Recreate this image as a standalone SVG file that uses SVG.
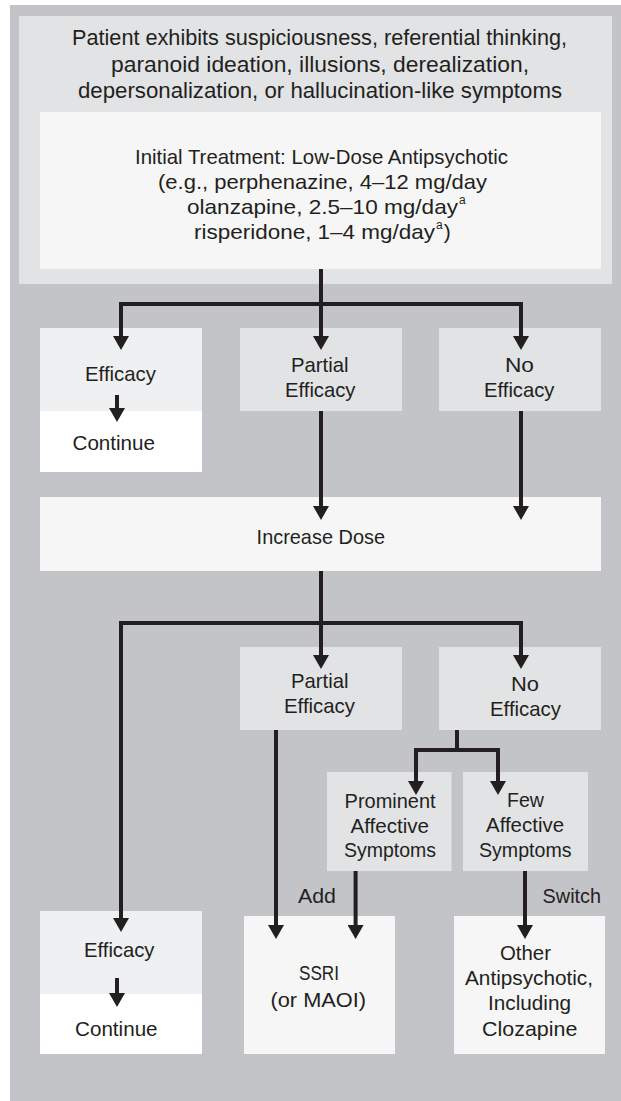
<svg xmlns="http://www.w3.org/2000/svg" width="621" height="1101" viewBox="0 0 621 1101">
<defs>
<style>
text{font-family:"Liberation Sans",Arial,sans-serif;fill:#231f20;font-size:21px}
.top{font-size:22px}
.mid{fill:#e2e3e5}
.lite{fill:#f6f6f6}
.eff{fill:#eff0f1}
.wht{fill:#ffffff}
.ln{fill:none;stroke:#231f20;stroke-width:4;stroke-linejoin:miter;stroke-linecap:butt;marker-end:url(#ah)}
.ln2{fill:none;stroke:#231f20;stroke-width:4;stroke-linejoin:miter;stroke-linecap:butt}
</style>
<marker id="ah" markerUnits="userSpaceOnUse" markerWidth="14" markerHeight="16" viewBox="0 0 14 16" refX="0" refY="8" orient="auto">
<path d="M0,0 L14,8 L0,16 z" fill="#231f20"/>
</marker>
</defs>
<rect x="0" y="0" width="621" height="1101" fill="#ffffff"/>
<rect x="10" y="5" width="611" height="1096" fill="#c3c4c8"/>

<g id="n-patient">
<rect class="mid" x="19" y="16" width="593" height="268"/>
<text class="top" x="72" y="45" textLength="495" lengthAdjust="spacingAndGlyphs">Patient exhibits suspiciousness, referential thinking,</text>
<text class="top" x="111" y="72" textLength="418" lengthAdjust="spacingAndGlyphs">paranoid ideation, illusions, derealization,</text>
<text class="top" x="78" y="98" textLength="484" lengthAdjust="spacingAndGlyphs">depersonalization, or hallucination-like symptoms</text>
</g>

<g id="n-initial">
<rect class="lite" x="40" y="112" width="561" height="157"/>
<text x="135" y="164" textLength="373" lengthAdjust="spacingAndGlyphs">Initial Treatment: Low-Dose Antipsychotic</text>
<text x="158" y="189" textLength="329" lengthAdjust="spacingAndGlyphs">(e.g., perphenazine, 4–12 mg/day</text>
<text x="187" y="214"><tspan textLength="271" lengthAdjust="spacingAndGlyphs">olanzapine, 2.5–10 mg/day</tspan><tspan font-size="12" dx="1" dy="-10">a</tspan></text>
<text x="194" y="239"><tspan textLength="241" lengthAdjust="spacingAndGlyphs">risperidone, 1–4 mg/day</tspan><tspan font-size="12" dx="1" dy="-10">a</tspan><tspan dx="1" dy="10">)</tspan></text>
</g>

<g id="n-eff1">
<rect class="eff" x="40" y="328" width="162" height="83"/>
<rect class="wht" x="40" y="411" width="162" height="61"/>
<text x="85" y="381" textLength="71" lengthAdjust="spacingAndGlyphs">Efficacy</text>
<text x="72.5" y="450" textLength="82.5" lengthAdjust="spacingAndGlyphs">Continue</text>
</g>

<g id="n-partial1">
<rect class="mid" x="240" y="328" width="162" height="83"/>
<text x="291" y="372" textLength="57.5" lengthAdjust="spacingAndGlyphs">Partial</text>
<text x="285" y="397" textLength="70.5" lengthAdjust="spacingAndGlyphs">Efficacy</text>
</g>

<g id="n-no1">
<rect class="mid" x="439" y="328" width="162" height="83"/>
<text x="505" y="372" textLength="29" lengthAdjust="spacingAndGlyphs">No</text>
<text x="484" y="397" textLength="70.5" lengthAdjust="spacingAndGlyphs">Efficacy</text>
</g>

<g id="n-increase">
<rect class="lite" x="40" y="497" width="561" height="74"/>
<text x="256.6" y="544" textLength="128.4" lengthAdjust="spacingAndGlyphs">Increase Dose</text>
</g>

<g id="n-partial2">
<rect class="mid" x="240" y="647" width="162" height="83"/>
<text x="291" y="688" textLength="57.5" lengthAdjust="spacingAndGlyphs">Partial</text>
<text x="284" y="713" textLength="71" lengthAdjust="spacingAndGlyphs">Efficacy</text>
</g>

<g id="n-no2">
<rect class="mid" x="439" y="647" width="162" height="83"/>
<text x="511" y="691" textLength="28" lengthAdjust="spacingAndGlyphs">No</text>
<text x="490" y="716" textLength="71" lengthAdjust="spacingAndGlyphs">Efficacy</text>
</g>

<g id="n-prominent">
<rect class="mid" x="327" y="772" width="124.5" height="99"/>
<text x="344.6" y="808" textLength="91" lengthAdjust="spacingAndGlyphs">Prominent</text>
<text x="350.5" y="833" textLength="78.5" lengthAdjust="spacingAndGlyphs">Affective</text>
<text x="344" y="857" textLength="92" lengthAdjust="spacingAndGlyphs">Symptoms</text>
</g>

<g id="n-few">
<rect class="mid" x="463" y="772" width="125" height="99"/>
<text x="507" y="807" textLength="37" lengthAdjust="spacingAndGlyphs">Few</text>
<text x="486" y="832" textLength="78" lengthAdjust="spacingAndGlyphs">Affective</text>
<text x="479" y="857" textLength="92.5" lengthAdjust="spacingAndGlyphs">Symptoms</text>
</g>

<g id="n-eff2">
<rect class="eff" x="40" y="911" width="162" height="83"/>
<rect class="wht" x="40" y="994" width="162" height="60"/>
<text x="84" y="957" textLength="70.5" lengthAdjust="spacingAndGlyphs">Efficacy</text>
<text x="75" y="1036" textLength="82.6" lengthAdjust="spacingAndGlyphs">Continue</text>
</g>

<g id="n-ssri">
<rect class="lite" x="244" y="916" width="151" height="138"/>
<text x="299" y="980" textLength="40" lengthAdjust="spacingAndGlyphs">SSRI</text>
<text x="270.5" y="1007" textLength="95.5" lengthAdjust="spacingAndGlyphs">(or MAOI)</text>
</g>

<g id="n-other">
<rect class="lite" x="454" y="916" width="151" height="138"/>
<text x="500" y="960" textLength="51" lengthAdjust="spacingAndGlyphs">Other</text>
<text x="465" y="985" textLength="128" lengthAdjust="spacingAndGlyphs">Antipsychotic,</text>
<text x="488" y="1010" textLength="83" lengthAdjust="spacingAndGlyphs">Including</text>
<text x="482" y="1036" textLength="95.4" lengthAdjust="spacingAndGlyphs">Clozapine</text>
</g>

<g id="connectors">
<path class="ln" d="M321,269 V336"/>
<path class="ln" d="M321,304 H121 V336"/>
<path class="ln" d="M321,304 H521 V336"/>
<path class="ln" d="M117,395 V408"/>
<path class="ln" d="M321,411 V506"/>
<path class="ln" d="M521,411 V506"/>
<path class="ln" d="M321,571 V655"/>
<path class="ln" d="M321,623 H121 V918"/>
<path class="ln" d="M321,623 H521 V655"/>
<path class="ln" d="M276,730 V925"/>
<path class="ln2" d="M457,730 V750"/>
<path class="ln" d="M457,750 H416 V781"/>
<path class="ln" d="M457,750 H498 V781"/>
<path class="ln" d="M355.6,871 V925"/>
<path class="ln" d="M525,871 V925"/>
<path class="ln" d="M117,978 V993"/>
<text x="298" y="903" textLength="38" lengthAdjust="spacingAndGlyphs">Add</text>
<text x="542.6" y="903" textLength="58.4" lengthAdjust="spacingAndGlyphs">Switch</text>
</g>
</svg>
